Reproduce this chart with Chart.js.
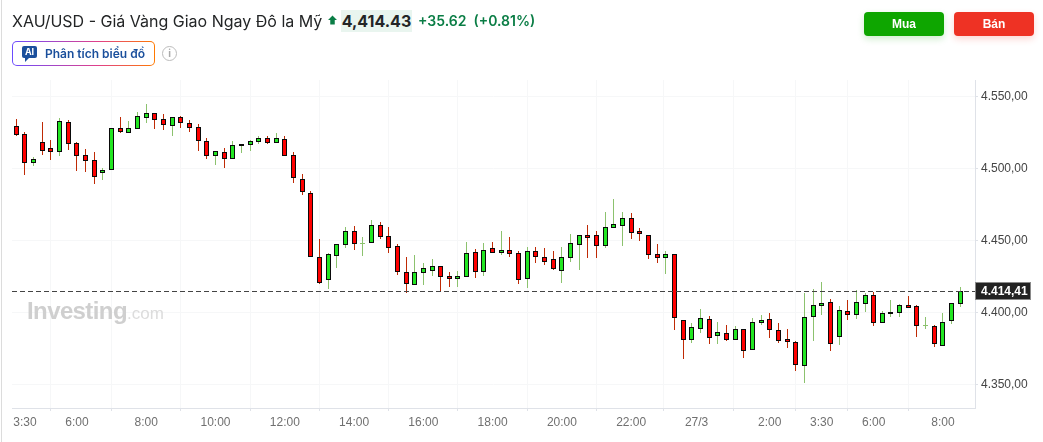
<!DOCTYPE html>
<html lang="vi">
<head>
<meta charset="utf-8">
<title>XAU/USD</title>
<script src="https://cdn.jsdelivr.net/npm/chart.js@4"></script>
<style>
  html, body { margin: 0; padding: 0; background: #fff; }
  #page { position: relative; width: 1043px; height: 442px; overflow: hidden; font-family: Inter, sans-serif; }
  #page > * { position: absolute; }
  #lineChart { left: 0; top: 0; }
  .edge { left: 1px; top: 0; width: 1px; height: 442px; background: #dcdcdc; }
  .title { left: 12px; top: 10px; font-size: 16px; line-height: 22px; color: #232526; white-space: nowrap; }
  .arrow { left: 328px; top: 15px; }
  .price { left: 341px; top: 10px; width: 71px; height: 22px; background: #e9f5ef; font-size: 16px; font-weight: 700; line-height: 22px; text-align: center; color: #232526; }
  .change { left: 418px; top: 10px; font-size: 14px; font-weight: 600; line-height: 22px; color: #0a7d45; white-space: nowrap; }
  .ai { left: 12px; top: 41px; width: 141px; height: 23px; border: 1px solid transparent; border-radius: 5px;
        background: linear-gradient(#fff, #fff) padding-box, linear-gradient(90deg, #6a4cff, #e0408a 60%, #ff7a00) border-box; }
  .ai span { position: absolute; left: 32px; top: 0; font-size: 12px; font-weight: 600; line-height: 23px; color: #1a4f9c; white-space: nowrap; }
  .ai i { position: absolute; left: 9px; top: 4px; width: 15px; height: 12px; border-radius: 2px; background: #1a4f9c; color: #fff; font: 700 9px/12px Inter, sans-serif; text-align: center; }
  .ai i::after { content: ""; position: absolute; left: 3px; top: 12px; border: 2px solid transparent; border-top-color: #1a4f9c; border-left-color: #1a4f9c; }
  .info { left: 162px; top: 46px; width: 13px; height: 13px; border: 1.5px solid #bbb; border-radius: 50%; color: #aaa; font: 700 10px/13px Inter, sans-serif; text-align: center; }
  .btn { top: 12px; width: 80px; height: 24px; border-radius: 4px; color: #fff; font: 700 12px/24px "Liberation Sans", sans-serif; text-align: center; }
  .buy { left: 864px; background: #0ea600; box-shadow: 0 3px 7px rgba(14, 166, 0, 0.2); }
  .sell { left: 954px; background: #ee3224; box-shadow: 0 3px 7px rgba(238, 50, 36, 0.2); }
  .mark { left: 27px; top: 296px; font: 700 24px/30px "Liberation Sans", sans-serif; color: #cfcfcf; letter-spacing: -0.6px; white-space: nowrap; }
  .mark span { font-weight: 400; font-size: 17px; color: #dcdcdc; letter-spacing: 0; }
</style>
</head>
<body>
<div id="page">
  <canvas id="lineChart" width="1043" height="442"></canvas>
  <div class="edge"></div>
  <div class="title">XAU/USD - Giá Vàng Giao Ngay Đô la Mỹ</div>
  <svg class="arrow" width="9" height="11" viewBox="0 0 10 11"><path d="M5 0 L10 5 L7.5 5 L7.5 10 L2.5 10 L2.5 5 L0 5 Z" fill="#0a7d45"/></svg>
  <div class="price">4,414.43</div>
  <div class="change">+35.62&nbsp;&nbsp;(+0.81%)</div>
  <div class="ai"><i>AI</i><span>Phân tích biểu đồ</span></div>
  <div class="info">i</div>
  <div class="btn buy">Mua</div>
  <div class="btn sell">Bán</div>
  <div class="mark">Investing<span>.com</span></div>
</div>
<script>
const opens = [
  4529.1, 4523.6, 4503.9, 4518.0, 4513.9, 4511.8, 4531.9, 4517.3, 4509.0, 4505.5,
  4497.0, 4499.3, 4527.8, 4525.0, 4527.8, 4535.4, 4538.2, 4534.0, 4529.8, 4535.4,
  4531.2, 4528.4, 4518.7, 4509.0, 4511.1, 4506.9, 4515.9, 4516.6, 4518.7, 4520.8,
  4518.0, 4520.1, 4509.0, 4492.3, 4482.6, 4438.2, 4422.9, 4439.6, 4447.2, 4456.2,
  4447.9, 4448.6, 4460.4, 4452.7, 4445.8, 4427.7, 4419.4, 4427.7, 4429.1, 4431.9,
  4424.9, 4423.6, 4424.9, 4441.6, 4428.4, 4444.4, 4441.6, 4443.0, 4440.9, 4423.6,
  4442.3, 4438.1, 4436.8, 4429.1, 4438.1, 4447.2, 4453.4, 4453.4, 4446.5, 4459.0,
  4460.4, 4465.2, 4456.2, 4453.4, 4440.2, 4438.1, 4439.8, 4394.4, 4381.2, 4388.9,
  4395.1, 4384.0, 4385.4, 4381.2, 4388.2, 4374.3, 4393.0, 4395.1, 4387.5, 4381.2,
  4379.1, 4363.2, 4397.2, 4404.8, 4406.9, 4383.3, 4400.7, 4398.6, 4406.2, 4411.8,
  4393.0, 4399.3, 4400.0, 4404.8, 4404.1, 4390.9, 4390.2, 4377.1, 4394.4, 4406.2
];
const closes = [
  4523.6, 4504.1, 4506.2, 4512.5, 4511.5, 4532.6, 4517.3, 4509.0, 4505.5, 4494.4,
  4498.6, 4527.8, 4525.7, 4527.8, 4536.1, 4538.2, 4534.0, 4530.3, 4535.4, 4531.9,
  4528.4, 4519.4, 4509.0, 4511.8, 4506.9, 4515.9, 4516.6, 4518.7, 4520.8, 4518.0,
  4520.8, 4509.0, 4493.7, 4484.0, 4438.9, 4420.8, 4440.3, 4447.2, 4456.2, 4447.9,
  4447.9, 4460.4, 4452.7, 4445.1, 4428.4, 4420.1, 4427.7, 4430.5, 4431.9, 4424.9,
  4423.6, 4424.9, 4440.9, 4428.4, 4443.0, 4441.6, 4443.0, 4440.9, 4422.9, 4442.3,
  4438.8, 4435.4, 4430.5, 4438.1, 4447.9, 4453.4, 4452.0, 4446.5, 4459.0, 4461.1,
  4465.2, 4455.5, 4454.8, 4440.2, 4438.1, 4440.2, 4396.5, 4381.2, 4389.6, 4395.8,
  4382.6, 4386.1, 4381.2, 4388.2, 4373.6, 4393.0, 4394.4, 4388.2, 4380.5, 4379.8,
  4363.9, 4396.5, 4404.8, 4406.2, 4378.4, 4401.4, 4398.6, 4406.9, 4411.8, 4393.0,
  4399.3, 4400.0, 4404.8, 4403.4, 4390.9, 4390.9, 4378.4, 4393.0, 4406.2, 4414.4
];
const highs = [
  4534.2, 4525.0, 4507.8, 4532.2, 4519.7, 4534.9, 4533.5, 4518.3, 4513.4, 4511.3,
  4500.2, 4527.8, 4535.6, 4532.8, 4539.1, 4544.6, 4538.2, 4537.7, 4535.9, 4536.3,
  4533.5, 4530.8, 4521.0, 4511.8, 4514.1, 4519.0, 4516.9, 4519.7, 4522.4, 4522.4,
  4524.5, 4522.4, 4511.3, 4496.0, 4484.0, 4450.9, 4441.2, 4447.2, 4459.2, 4459.9,
  4452.3, 4464.1, 4462.7, 4459.2, 4447.4, 4438.4, 4439.8, 4434.2, 4437.0, 4431.9,
  4428.0, 4428.7, 4448.8, 4443.9, 4448.1, 4449.0, 4456.4, 4452.3, 4442.3, 4445.3,
  4445.3, 4444.6, 4442.5, 4445.3, 4454.3, 4453.7, 4460.6, 4456.4, 4469.6, 4478.7,
  4469.6, 4468.9, 4458.5, 4453.4, 4447.4, 4442.6, 4439.8, 4394.4, 4392.6, 4402.3,
  4397.4, 4393.3, 4391.2, 4390.5, 4388.2, 4395.8, 4398.1, 4399.5, 4392.6, 4388.4,
  4379.8, 4413.4, 4416.2, 4421.0, 4409.0, 4404.4, 4408.5, 4415.5, 4413.4, 4414.3,
  4400.9, 4408.5, 4405.8, 4411.3, 4404.8, 4396.7, 4391.2, 4399.5, 4406.2, 4417.6
];
const lows = [
  4522.7, 4495.6, 4501.8, 4509.5, 4506.0, 4508.8, 4512.9, 4498.4, 4497.7, 4489.3,
  4492.1, 4499.3, 4524.7, 4525.0, 4527.8, 4531.7, 4527.5, 4526.8, 4522.7, 4528.2,
  4525.4, 4512.2, 4506.7, 4502.5, 4500.4, 4506.9, 4510.9, 4512.2, 4517.1, 4517.1,
  4518.0, 4508.3, 4490.0, 4481.7, 4438.9, 4419.9, 4416.4, 4431.0, 4444.9, 4443.5,
  4439.3, 4448.6, 4451.1, 4441.4, 4426.1, 4413.6, 4418.7, 4419.2, 4425.4, 4415.0,
  4417.5, 4417.5, 4424.9, 4424.0, 4425.4, 4440.9, 4439.8, 4438.4, 4419.9, 4417.1,
  4434.4, 4433.0, 4429.3, 4420.5, 4434.9, 4429.6, 4437.9, 4437.9, 4444.9, 4459.0,
  4446.2, 4451.1, 4449.7, 4437.2, 4434.4, 4426.6, 4387.9, 4367.8, 4378.9, 4385.8,
  4378.2, 4378.2, 4380.3, 4381.2, 4368.5, 4374.3, 4391.4, 4382.4, 4378.9, 4375.4,
  4359.5, 4351.1, 4380.3, 4398.3, 4373.3, 4377.5, 4394.9, 4395.6, 4400.4, 4390.7,
  4393.0, 4397.0, 4397.0, 4403.2, 4383.1, 4388.2, 4376.1, 4377.1, 4392.1, 4403.9
];
const tickPositions = [1, 7, 15, 23, 31, 39, 47, 55, 63, 71, 78.55, 87, 93, 99, 107];
const tickLabels = ['3:30', '6:00', '8:00', '10:00', '12:00', '14:00', '16:00', '18:00', '20:00', '22:00', '27/3', '2:00', '3:30', '6:00', '8:00'];
const priceTicks = [4350, 4400, 4450, 4500, 4550];
const lastPrice = 4414.41;

const xMin = -0.5, xMax = 110.7;
const yMin = 4333.5, yMax = 4561.3;

function isUp(i) { return closes[i] >= opens[i]; }
function wickColor(i) { return isUp(i) ? '#8cc26e' : '#bf2a05'; }
function priceText(v) {
  return v.toLocaleString('de-DE', { minimumFractionDigits: 2, maximumFractionDigits: 2 });
}

// keep candles on whole pixels, the original is drawn crisp
const snapCandles = {
  id: 'snapCandles',
  beforeDatasetsDraw(chart) {
    chart.getDatasetMeta(0).data.forEach(function(el) {
      const top = Math.floor(Math.min(el.y, el.base));
      const bottom = Math.ceil(Math.max(el.y, el.base));
      el.x = Math.floor(el.x) + 0.5;
      el.y = top;
      el.base = bottom > top ? bottom : top + 1;
    });
    chart.getDatasetMeta(1).data.forEach(function(el) {
      el.x = Math.floor(el.x) + 0.5;
      el.y = Math.round(el.y);
      el.base = Math.round(el.base);
    });
  }
};

const priceTag = {
  id: 'priceTag',
  afterDraw(chart) {
    const c = chart.ctx;
    const y = Math.floor(chart.scales.y.getPixelForValue(lastPrice));
    c.save();
    c.fillStyle = '#222';
    c.strokeStyle = '#8a8a8a';
    c.fillRect(975, y - 9, 56, 18);
    c.strokeRect(975.5, y - 8.5, 55, 17);
    c.fillStyle = '#fff';
    c.font = 'bold 12px "Liberation Sans", sans-serif';
    c.textBaseline = 'middle';
    c.fillText(priceText(lastPrice), 981, y + 1);
    c.restore();
  }
};

let ctx = document.getElementById('lineChart').getContext('2d');
let lineChart = new Chart(ctx, {
  type: 'bar',
  plugins: [snapCandles, priceTag],
  data: {
    datasets: [{
      label: 'body',
      order: 1,
      grouped: false,
      barThickness: 5,
      borderWidth: 1,
      borderSkipped: false,
      inflateAmount: 0,
      data: opens.map((o, i) => ({ x: i, y: [o, closes[i]] })),
      backgroundColor: c => isUp(c.dataIndex) ? '#22e622' : '#ff0000',
      borderColor: c => opens[c.dataIndex] === closes[c.dataIndex] ? wickColor(c.dataIndex) : '#0a0a0a'
    }, {
      label: 'wick',
      order: 2,
      grouped: false,
      barThickness: 1,
      borderWidth: 0,
      inflateAmount: 0,
      data: lows.map((l, i) => ({ x: i, y: [l, highs[i]] })),
      backgroundColor: c => wickColor(c.dataIndex)
    }, {
      label: 'last',
      type: 'line',
      order: 0,
      data: [{ x: xMin, y: lastPrice }, { x: xMax, y: lastPrice }],
      borderColor: '#444',
      borderWidth: 1,
      borderDash: [5, 3],
      pointRadius: 0
    }]
  },
  options: {
    responsive: false,
    animation: false,
    layout: { padding: { left: 12, top: 80 } },
    plugins: { legend: { display: false }, tooltip: { enabled: false } },
    scales: {
      x: {
        type: 'linear',
        offset: false,
        min: xMin,
        max: xMax,
        afterBuildTicks: s => { s.ticks = tickPositions.map(v => ({ value: v })); },
        afterFit: s => { s.height = 34; },
        grid: { color: '#f6f7f8', tickColor: '#dfe2e8', tickLength: 3 },
        border: { color: '#dfe2e8' },
        ticks: {
          autoSkip: false,
          maxRotation: 0,
          padding: 4,
          color: '#707070',
          font: { family: '"Liberation Sans", sans-serif', size: 12 },
          callback: v => tickLabels[tickPositions.indexOf(v)]
        }
      },
      y: {
        position: 'right',
        min: yMin,
        max: yMax,
        afterBuildTicks: s => { s.ticks = priceTicks.map(v => ({ value: v })); },
        afterFit: s => { s.width = 68; },
        grid: { color: '#f6f7f8', tickColor: '#dfe2e8', tickLength: 3 },
        border: { color: '#dfe2e8' },
        ticks: {
          padding: 3,
          color: '#444',
          font: { family: '"Liberation Sans", sans-serif', size: 12 },
          callback: v => priceText(v)
        }
      }
    }
  }
});
</script>
</body>
</html>
